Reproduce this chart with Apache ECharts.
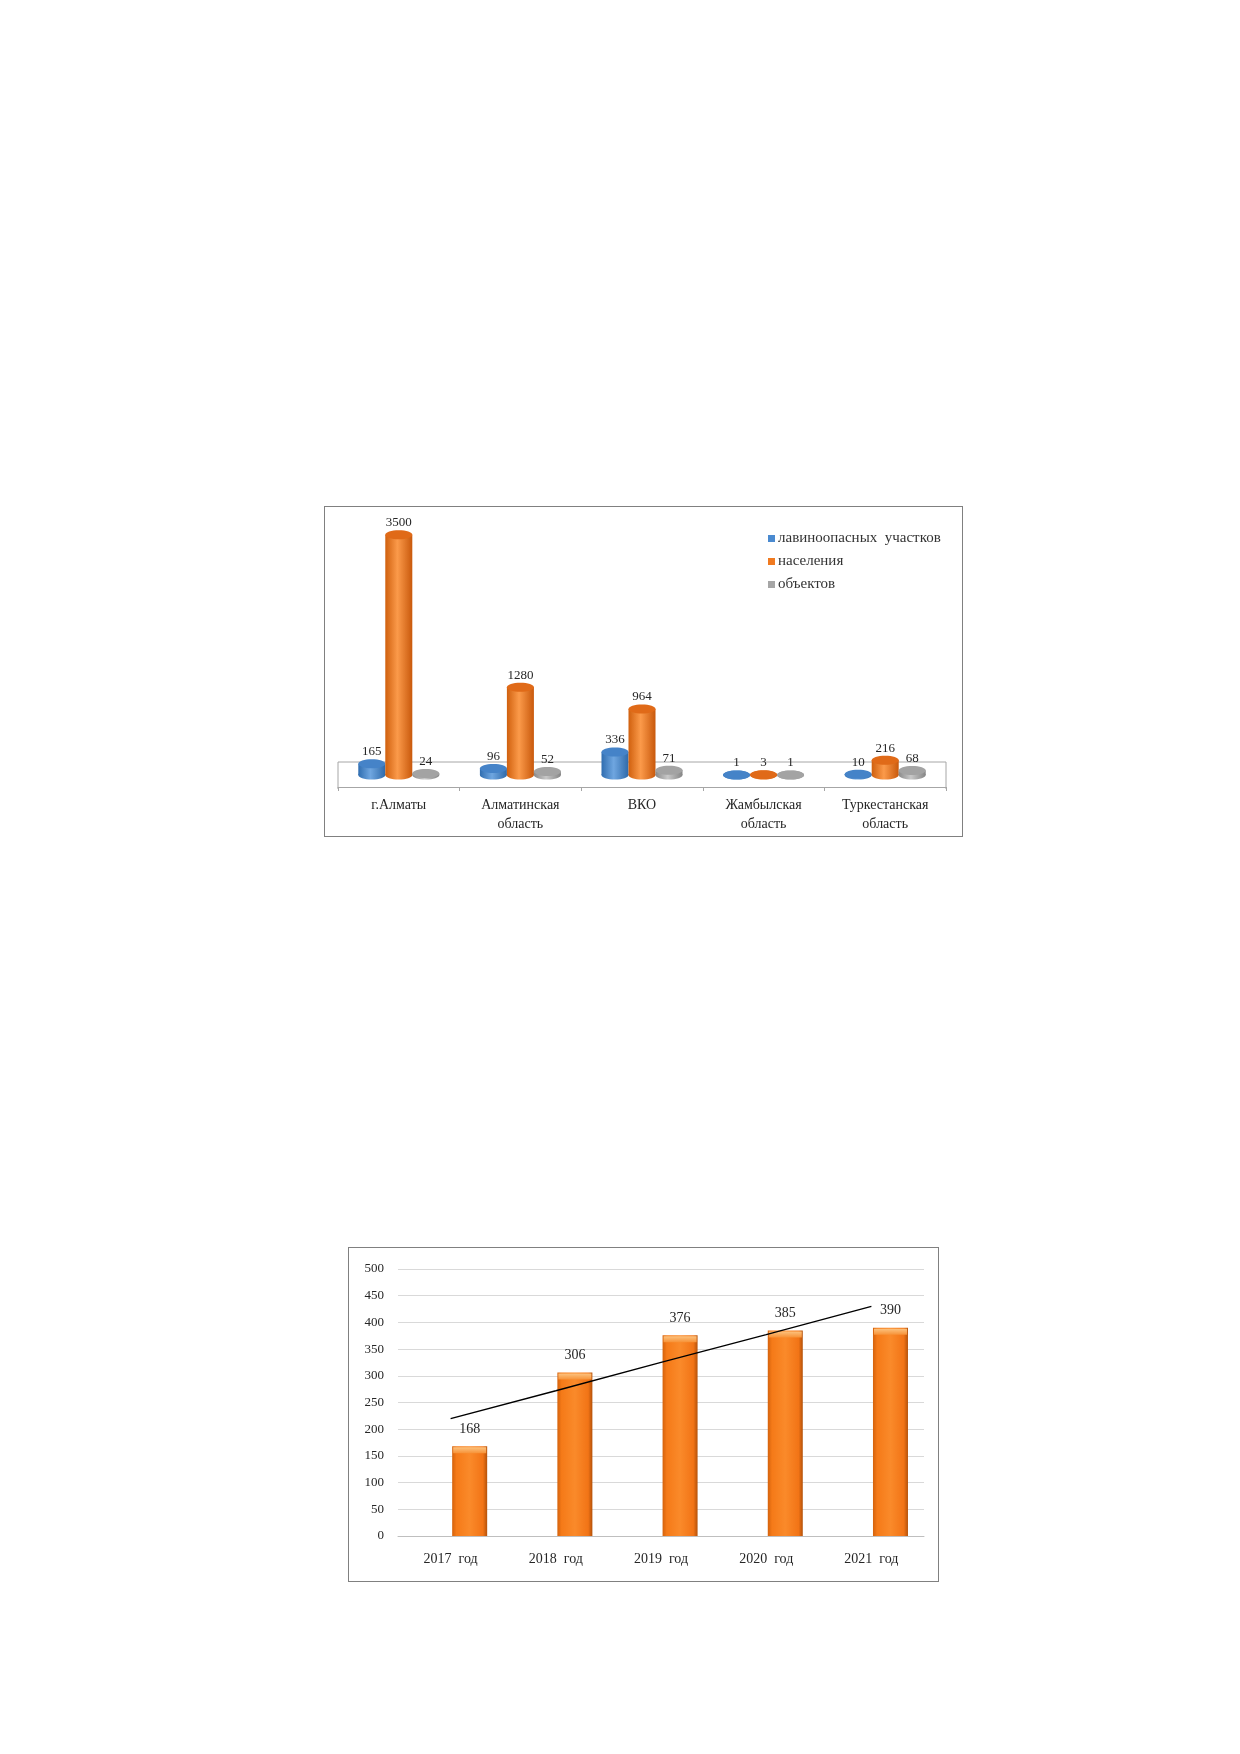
<!DOCTYPE html>
<html>
<head>
<meta charset="utf-8">
<script src="https://cdn.jsdelivr.net/npm/echarts@6/dist/echarts.min.js"></script>
<style>
  body { margin: 0; background: #fff; }
  .box { position: absolute; box-sizing: border-box; border: 1px solid #808080; background: #fff; }
  #c1 { left: 324px; top: 506px; width: 639px; height: 331px; }
  #c2 { left: 348px; top: 1247px; width: 591px; height: 335px; }
</style>
</head>
<body>
<div id="c1" class="box"></div>
<div id="c2" class="box"></div>
<script>
// chart 1: avalanche zones by region
var regions = ['г.Алматы', 'Алматинская\nобласть', 'ВКО', 'Жамбылская\nобласть', 'Туркестанская\nобласть'];
var seriesNames = ['лавиноопасных  участков', 'населения', 'объектов'];
var zones = [165, 96, 336, 1, 10];
var people = [3500, 1280, 964, 3, 216];
var objects = [24, 52, 71, 1, 68];

// chart 2: by year
var years = ['2017  год', '2018  год', '2019  год', '2020  год', '2021  год'];
var yearValues = [168, 306, 376, 385, 390];
var trendValues = [220, 272, 325, 377, 430];
var yTicks = [0, 500, 50];

var serif = '"Liberation Serif", "DejaVu Serif", serif';

function cylinder(offset, body, topFill) {
  return function (params, api) {
    var idx = api.value(0);
    var v = api.value(1);
    var base = api.coord([idx, 0]);
    var top = api.coord([idx, v]);
    var cx = base[0] + offset;
    var rx = 13.5, ry = 4.5;
    var grad = new echarts.graphic.LinearGradient(0, 0, 1, 0, body);
    return {
      type: 'group',
      children: [
        { type: 'ellipse', shape: { cx: cx, cy: base[1], rx: rx, ry: ry }, style: { fill: grad } },
        { type: 'rect', shape: { x: cx - rx, y: top[1], width: rx * 2, height: base[1] - top[1] }, style: { fill: grad } },
        { type: 'ellipse', shape: { cx: cx, cy: top[1], rx: rx, ry: ry }, style: { fill: topFill } },
        { type: 'text', style: { text: String(v), x: cx, y: top[1] - ry - 1, align: 'center', verticalAlign: 'bottom',
            font: '13px ' + serif, fill: '#262626' } }
      ]
    };
  };
}

function pairs(arr) {
  return arr.map(function (v, i) { return [i, v]; });
}

var yMin1 = -174;
var chart1 = echarts.init(document.getElementById('c1'));
chart1.setOption({
  animation: false,
  color: ['#4A8AD0', '#F07A20', '#A6A6A6'],
  legend: {
    orient: 'vertical',
    left: 438,
    top: 19,
    itemWidth: 7,
    itemHeight: 7,
    itemGap: 8,
    icon: 'rect',
    data: seriesNames,
    textStyle: { fontFamily: serif, fontSize: 15, color: '#333', lineHeight: 15, padding: [0, 0, 0, -2] }
  },
  // the floor of the 3D plot lies 12px under the bars' base, so min is below 0
  grid: { left: 13, right: 16, top: 21, bottom: 49 },
  xAxis: {
    type: 'category',
    data: regions,
    axisLine: { onZero: false, lineStyle: { color: '#A6A6A6' } },
    axisTick: { show: true, length: 4, lineStyle: { color: '#A6A6A6' } },
    axisLabel: { interval: 0, margin: 9, fontFamily: serif, fontSize: 14, color: '#262626', lineHeight: 19 }
  },
  yAxis: { type: 'value', min: yMin1, max: 3600, show: false, splitLine: { show: false } },
  series: [
    {
      name: seriesNames[0], type: 'custom', encode: { x: 0, y: 1 }, data: pairs(zones),
      renderItem: cylinder(-27, [{ offset: 0, color: '#2F6DB0' }, { offset: 0.45, color: '#6FA6E0' }, { offset: 1, color: '#2F6AAA' }], '#4583C8')
    },
    {
      name: seriesNames[1], type: 'custom', encode: { x: 0, y: 1 }, data: pairs(people),
      renderItem: cylinder(0, [{ offset: 0, color: '#D0600E' }, { offset: 0.45, color: '#FB9A4A' }, { offset: 1, color: '#C9590C' }], '#E06A18')
    },
    {
      name: seriesNames[2], type: 'custom', encode: { x: 0, y: 1 }, data: pairs(objects),
      renderItem: cylinder(27, [{ offset: 0, color: '#8A8A8A' }, { offset: 0.45, color: '#C8C8C8' }, { offset: 1, color: '#858585' }], '#A3A3A3')
    }
  ]
});

// floor outline: top and sides, sitting on the category axis line
var floorY = chart1.convertToPixel({ yAxisIndex: 0 }, yMin1);
var floorR = chart1.getWidth() - 16;
chart1.setOption({
  graphic: [{
    type: 'polyline', z: 0, silent: true,
    shape: { points: [[13, floorY + 2], [13, floorY - 25], [floorR, floorY - 25], [floorR, floorY + 2]] },
    style: { fill: 'none', stroke: '#A6A6A6', lineWidth: 1 }
  }]
});

var chart2 = echarts.init(document.getElementById('c2'));
chart2.setOption({
  animation: false,
  grid: { left: 49, right: 14, top: 21, bottom: 45 },
  xAxis: {
    type: 'category',
    data: years,
    axisLine: { lineStyle: { color: '#BFBFBF' } },
    axisTick: { show: false },
    axisLabel: { interval: 0, margin: 16, fontFamily: serif, fontSize: 14, color: '#262626' }
  },
  yAxis: {
    type: 'value',
    min: yTicks[0],
    max: yTicks[1],
    interval: yTicks[2],
    axisLine: { show: false },
    axisTick: { show: false },
    axisLabel: { margin: 14, fontFamily: serif, fontSize: 13, color: '#262626' },
    splitLine: { lineStyle: { color: '#D9D9D9' } }
  },
  series: [
    { type: 'bar', barWidth: 35, barGap: '9%', data: years.map(function () { return null; }) },
    {
      type: 'bar', barWidth: 35, barGap: '9%', data: yearValues,
      itemStyle: {
        color: new echarts.graphic.LinearGradient(0, 0, 1, 0, [
          { offset: 0, color: '#D4620C' },
          { offset: 0.12, color: '#F57A18' },
          { offset: 0.5, color: '#FA8A2A' },
          { offset: 0.88, color: '#F27416' },
          { offset: 1, color: '#B4520A' }
        ])
      },
      label: { show: true, position: 'top', distance: 10, fontFamily: serif, fontSize: 14, color: '#262626' },
      z: 2
    },
    { type: 'pictorialBar', barWidth: 35, barGap: '9%', data: years.map(function () { return null; }) },
    {
      type: 'pictorialBar', barWidth: 35, barGap: '9%', data: yearValues,
      symbol: 'rect', symbolSize: [33, 6], symbolPosition: 'end', symbolOffset: [0, 1],
      itemStyle: {
        color: new echarts.graphic.LinearGradient(0, 0, 0, 1, [
          { offset: 0, color: '#FCC27E' },
          { offset: 1, color: '#F79237' }
        ])
      },
      z: 3
    },
    {
      type: 'line', data: trendValues, symbol: 'none',
      lineStyle: { color: '#000', width: 1.3 }, z: 4
    }
  ]
});
</script>
</body>
</html>
